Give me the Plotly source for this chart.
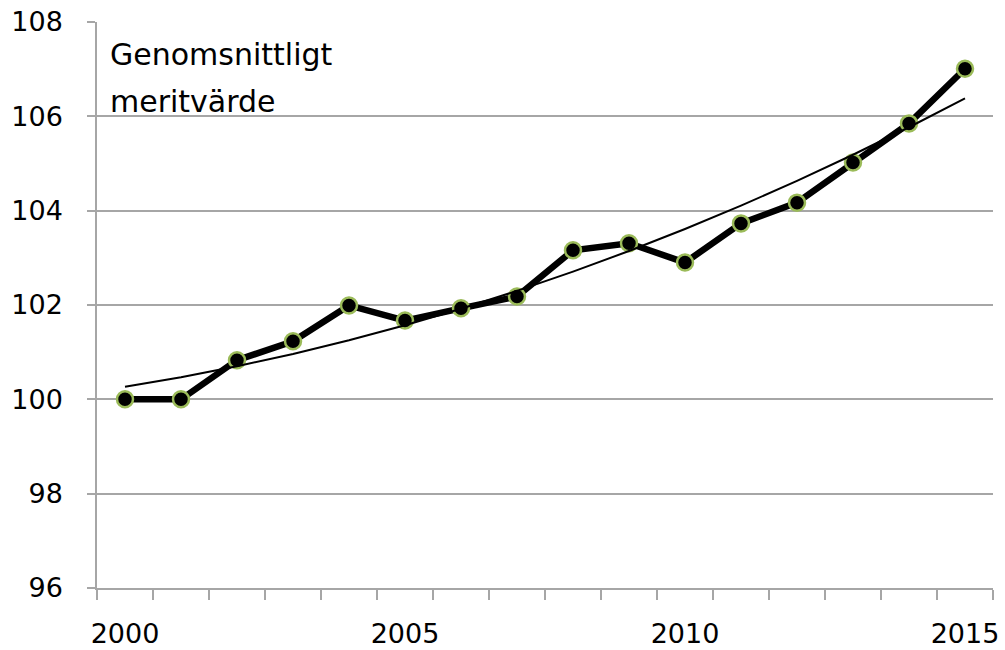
import numpy as np
import plotly.graph_objects as go

years = list(range(2000, 2016))
values = [100.0, 100.0, 100.83, 101.23, 101.99, 101.67, 101.93, 102.18,
          103.16, 103.31, 102.9, 103.73, 104.17, 105.02, 105.85, 107.01]
x_labels = ["2000", "2005", "2010", "2015"]
x_label_pos = [2000, 2005, 2010, 2015]
y_ticks = [96, 98, 100, 102, 104, 106, 108]
title_lines = ["Genomsnittligt", "meritvärde"]

# Polynomial (2nd order) trend line, as in the original spreadsheet chart
coef = np.polyfit(np.array(years) - 2000, values, 2)
trend = np.polyval(coef, np.array(years) - 2000)

FONT = "DejaVu Sans"
GRID = "#a6a6a6"

fig = go.Figure()
fig.add_trace(go.Scatter(
    x=years, y=values, mode="lines+markers",
    line=dict(color="black", width=6.5),
    marker=dict(size=16, color="black", line=dict(color="#9bbb59", width=2.5)),
    showlegend=False, hoverinfo="x+y"))
fig.add_trace(go.Scatter(
    x=years, y=trend, mode="lines",
    line=dict(color="black", width=2),
    showlegend=False, hoverinfo="skip"))

for i, line in enumerate(title_lines):
    fig.add_annotation(
        x=0.012, y=0.942 - i * 0.083, xref="paper", yref="paper",
        xanchor="left", yanchor="middle",
        text=line, showarrow=False, align="left",
        font=dict(family=FONT, size=30, color="black"))

fig.update_layout(
    width=1005, height=650,
    margin=dict(l=97, r=12, t=22, b=62),
    paper_bgcolor="white", plot_bgcolor="white",
    font=dict(family=FONT, size=27, color="black"),
    xaxis=dict(
        range=[1999.5, 2015.5], tickvals=x_label_pos, ticktext=x_labels,
        ticks="", showgrid=False, zeroline=False, automargin=False,
        showline=True, linecolor=GRID, linewidth=1.5,
        ticklabelstandoff=21, ticklabeloverflow="allow",
        minor=dict(tick0=1999.5, dtick=1, ticks="outside", ticklen=10,
                   tickcolor=GRID, tickwidth=1.5, showgrid=False)),
    yaxis=dict(
        range=[96, 108.0001], tickvals=y_ticks, ticks="outside", ticklen=8,
        tickcolor=GRID, tickwidth=1.5, automargin=False,
        showgrid=True, gridcolor=GRID, gridwidth=1.5, zeroline=False,
        showline=True, linecolor=GRID, linewidth=1.5,
        ticklabelstandoff=19, ticklabeloverflow="allow"),
)

fig.write_html("out.html", config={"displayModeBar": False},
               post_script="document.body.style.margin='0';")
